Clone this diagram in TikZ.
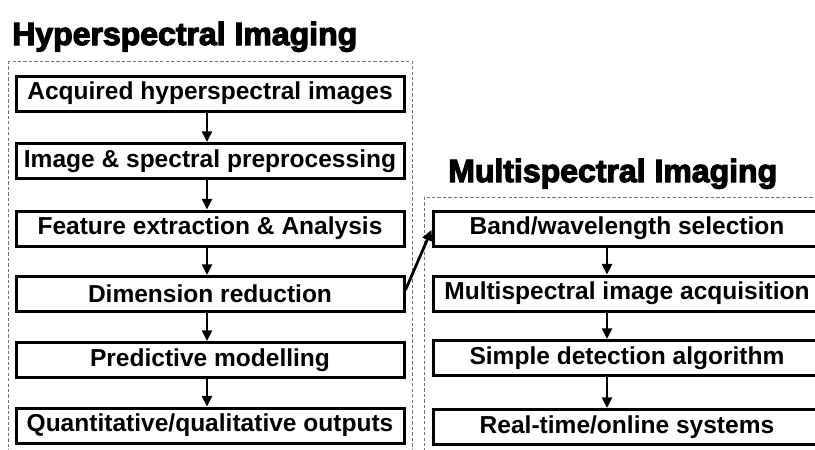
\documentclass[tikz,border=0pt]{standalone}
\usepackage{fontspec}
\setmainfont{Liberation Sans}
\newfontfamily\boxfont{Liberation Sans Bold}
\newfontfamily\titlefont[FakeBold=3.6]{Liberation Sans Bold}
\usetikzlibrary{arrows.meta}
\begin{document}
\begin{tikzpicture}[x=0.75pt,y=-0.75pt,
  stepbox/.style={draw=black,line width=3*0.75pt,minimum width=388*0.75pt,minimum height=35*0.75pt,inner sep=0pt,font=\boxfont\fontsize{18.4}{22}\selectfont,anchor=center},
  titletext/.style={inner sep=0pt,anchor=base west,font=\titlefont\fontsize{24}{28}\selectfont},
  group/.style={draw=black!55,line width=0.9*0.75pt,dash pattern=on 2.5pt off 1.6pt},
  arr/.style={line width=2.8*0.75pt,-{Triangle[width=7.5pt,length=8pt]}}]
\clip (0,0) rectangle (815,450);
\fill[white] (0,0) rectangle (815,450);
% groups
\draw[group] (8,61) rectangle (412,470);
\draw[group] (424,197) rectangle (840,470);
% titles
\node[titletext] (t1) at (12,45) {Hyperspectral Imaging};
\node[titletext] (t2) at (448,182) {Multispectral Imaging};
% left column
\node[stepbox] (h1) at (210,93.5) {Acquired hyperspectral images};
\node[stepbox] (h2) at (210,161) {Image \& spectral preprocessing};
\node[stepbox] (h3) at (210,228.5) {Feature extraction \& Analysis};
\node[stepbox] (h4) at (210,294) {Dimension reduction};
\node[stepbox] (h5) at (210,360) {Predictive modelling};
\node[stepbox] (h6) at (210,425.5) {Quantitative/qualitative outputs};
% right column
\node[stepbox] (m1) at (627,228.5) {Band/wavelength selection};
\node[stepbox] (m2) at (627,293.5) {Multispectral image acquisition};
\node[stepbox] (m3) at (627,358) {Simple detection algorithm};
\node[stepbox] (m4) at (627,427) {Real-time/online systems};
\coordinate (lx) at (207,0);
\coordinate (rx) at (607,0);
\foreach \a/\b in {h1/h2,h2/h3,h3/h4,h4/h5,h5/h6}
  \draw[arr] (\a.south -| lx) -- (\b.north -| lx);
\foreach \a/\b in {m1/m2,m2/m3,m3/m4}
  \draw[arr] (\a.south -| rx) -- (\b.north -| rx);
\draw[arr] ([yshift=3pt]h4.east) -- ([yshift=-1pt]m1.west);
\end{tikzpicture}
\end{document}
